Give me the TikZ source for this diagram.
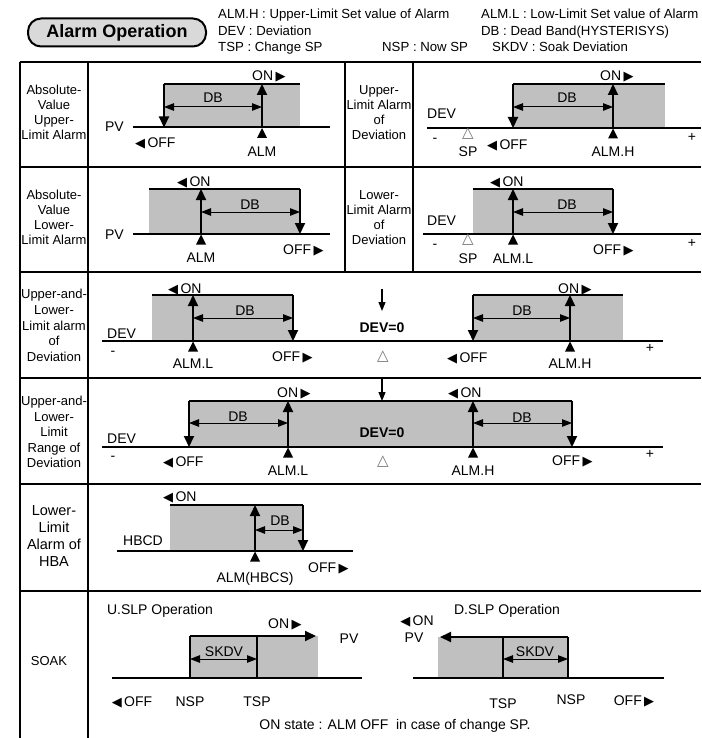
\documentclass[tikz,border=0pt]{standalone}
\usepackage{fontspec}
\setmainfont{Liberation Sans}
\newfontfamily\sym{DejaVu Sans}
\usetikzlibrary{arrows.meta}
\definecolor{shade}{HTML}{C0C0C0}
\definecolor{hdrfill}{HTML}{D9D9D9}
\newcommand\dfont{\fontsize{14}{16}\selectfont}
\newcommand\lfont{\fontsize{13}{15}\selectfont}
\newcommand\hfont{\fontsize{13.2}{16}\selectfont}
\newcommand\triR{{\sym\fontsize{13}{13}\selectfont ▶}}
\newcommand\triL{{\sym\fontsize{13}{13}\selectfont ◀}}
\newcommand\mkup[2]{\fill (#1,#2) -- ++(-5,10) -- ++(10,0) -- cycle;}
\tikzset{
  tbl/.style={line width=1.5pt},
  bl/.style={line width=2pt},
  shd/.style={fill=shade, draw=none},
  edgeline/.style={line width=2pt},
  va/.style={line width=2pt, -{Triangle[length=11pt,width=10pt]}},
  dbar/.style={line width=1pt, {Triangle[length=10pt,width=7.5pt]}-{Triangle[length=10pt,width=7.5pt]}},
  sarr/.style={line width=1.2pt, -{Triangle[length=9pt,width=7pt]}},
  t/.style={font=\dfont, inner sep=0pt, anchor=base},
  tw/.style={t, anchor=base west},
  rl/.style={font=\lfont, align=center, inner sep=0pt},
  lg/.style={font=\hfont, inner sep=0pt, anchor=base west},
  hollow/.style={font=\sym\fontsize{15}{15}\selectfont, text=black!55, inner sep=0pt},
}
\begin{document}
\begin{tikzpicture}[x=1pt,y=-1pt]
\useasboundingbox (0,0) rectangle (701,738);

% header
\node[draw, line width=2pt, fill=hdrfill, rounded corners=13pt, minimum width=178pt, minimum height=28pt, font=\fontsize{18}{20}\selectfont\bfseries, inner sep=0pt] (title) at (117,32.5) {Alarm Operation};
\node[lg] (lg1) at (218,19) {ALM.H : Upper-Limit Set value of Alarm};
\node[lg] (lg2) at (481,19) {ALM.L : Low-Limit Set value of Alarm};
\node[lg] (lg3) at (218,35.5) {DEV : Deviation};
\node[lg] (lg4) at (481,35.5) {DB : Dead Band(HYSTERISYS)};
\node[lg] (lg5) at (218,52) {TSP : Change SP};
\node[lg] (lg6) at (382,52) {NSP : Now SP};
\node[lg] (lg7) at (492,52) {SKDV : Soak Deviation};

% table
\draw[tbl] (20,62) -- (701,62) (20,167) -- (701,167) (20,272) -- (701,272)
  (20,378) -- (701,378) (20,484) -- (701,484) (20,591) -- (701,591);
\draw[tbl] (20,62) -- (20,738) (88,62) -- (88,738) (345,62) -- (345,272) (413,62) -- (413,272);

% row labels
\node[rl] (l1) at (54,112.5) {Absolute-\\Value\\Upper-\\Limit Alarm};
\node[rl] (l1r) at (379,112.5) {Upper-\\Limit Alarm\\of\\Deviation};
\node[rl] (l2) at (54,217.5) {Absolute-\\Value\\Lower-\\Limit Alarm};
\node[rl] (l2r) at (379,217.5) {Lower-\\Limit Alarm\\of\\Deviation};
\node[rl, font=\fontsize{13}{15.7}\selectfont] (l3) at (54,325.5) {Upper-and-\\Lower-\\Limit alarm\\of\\Deviation};
\node[rl, font=\fontsize{13}{15.5}\selectfont] (l4) at (54,432) {Upper-and-\\Lower-\\Limit\\Range of\\Deviation};
\node[rl, font=\fontsize{14.5}{17}\selectfont] (l5) at (54,536.5) {Lower-\\Limit\\Alarm of\\HBA};
\node[rl] (l6) at (49,661) {SOAK};

% ---------- row 1 left
\fill[shd] (164,84) rectangle (300,127.5);
\draw[edgeline] (164,84) -- (300,84);
\draw[va] (164,84) -- (164,127.5);
\draw[va] (262,127.5) -- (262,84);
\draw[dbar] (164,107) -- (262,107);
\draw[bl] (133,127.5) -- (330,127.5);
\mkup{262}{128}
\node[t, anchor=base east] (a1pv) at (124,132) {PV};
\node[t] (a1db) at (213,103) {DB};
\node[tw] (a1on) at (252,81) {ON\,\triR};
\node[tw] (a1off) at (135,148) {\triL\,OFF};
\node[t] (a1alm) at (262,157) {ALM};

% ---------- row 1 right
\fill[shd] (513,84) rectangle (665,128);
\draw[edgeline] (513,84) -- (665,84);
\draw[va] (513,84) -- (513,128);
\draw[va] (613,128) -- (613,84);
\draw[dbar] (513,107) -- (613,107);
\draw[bl] (427,128) -- (701,128);
\mkup{613}{128.5}
\node[tw] (b1dev) at (427,119) {DEV};
\node[t] (b1m) at (435,143) {-};
\node[t] (b1p) at (692,142) {+};
\node[hollow] (b1sp0) at (468,134) {△};
\node[t] (b1sp) at (468,157) {SP};
\node[tw] (b1off) at (487,150) {\triL\,OFF};
\node[t] (b1db) at (567,103) {DB};
\node[tw] (b1on) at (600,81) {ON\,\triR};
\node[t] (b1alm) at (613,157) {ALM.H};

% ---------- row 2 left
\fill[shd] (149,189) rectangle (300,234);
\draw[edgeline] (149,189) -- (300,189);
\draw[va] (201,234) -- (201,189);
\draw[va] (300,189) -- (300,234);
\draw[dbar] (201,212) -- (300,212);
\draw[bl] (133,234) -- (330,234);
\mkup{201}{234.5}
\node[t, anchor=base east] (a2pv) at (124,239) {PV};
\node[t] (a2db) at (250,209) {DB};
\node[tw] (a2on) at (177,186) {\triL\,ON};
\node[tw] (a2off) at (283,254) {OFF\,\triR};
\node[t] (a2alm) at (201,262) {ALM};

% ---------- row 2 right
\fill[shd] (473,189) rectangle (613,234);
\draw[edgeline] (473,189) -- (613,189);
\draw[va] (513,234) -- (513,189);
\draw[va] (613,189) -- (613,234);
\draw[dbar] (513,212) -- (613,212);
\draw[bl] (423,234) -- (701,234);
\mkup{513}{234.5}
\node[tw] (b2dev) at (427,225) {DEV};
\node[t] (b2m) at (435,248) {-};
\node[t] (b2p) at (692,247) {+};
\node[hollow] (b2sp0) at (468,240) {△};
\node[t] (b2sp) at (468,263) {SP};
\node[t] (b2db) at (567,209) {DB};
\node[tw] (b2on) at (490,186) {\triL\,ON};
\node[tw] (b2off) at (593,254) {OFF\,\triR};
\node[t] (b2alm) at (513,263) {ALM.L};

% ---------- row 3
\fill[shd] (152,295) rectangle (293,341);
\draw[edgeline] (152,295) -- (293,295);
\draw[va] (193,341) -- (193,295);
\draw[va] (293,295) -- (293,341);
\draw[dbar] (193,318) -- (293,318);
\fill[shd] (473,295) rectangle (623,341);
\draw[edgeline] (473,295) -- (623,295);
\draw[va] (473,295) -- (473,341);
\draw[va] (570,341) -- (570,295);
\draw[dbar] (473,318) -- (570,318);
\draw[bl] (102,341) -- (663,341);
\mkup{193}{341.5}
\mkup{570}{341.5}
\node[tw] (c3dev) at (107,338) {DEV};
\node[t] (c3m) at (113,355) {-};
\node[t] (c3db1) at (245,315) {DB};
\node[tw] (c3on1) at (168,293) {\triL\,ON};
\node[tw] (c3off1) at (272,361) {OFF\,\triR};
\node[t] (c3alm1) at (193,368) {ALM.L};
\coordinate (c3a) at (382,289);
\coordinate (c3b) at (382,311);
\draw[sarr] (c3a) -- (c3b);
\node[t, font=\dfont\bfseries] (c3zero) at (382,332) {DEV=0};
\node[hollow] (c3sp0) at (383,357) {△};
\node[t] (c3db2) at (522,315) {DB};
\node[tw] (c3on2) at (558,293) {ON\,\triR};
\node[tw] (c3off2) at (447,362) {\triL\,OFF};
\node[t] (c3p) at (650,352) {+};
\node[t] (c3alm2) at (570,368) {ALM.H};

% ---------- row 4
\fill[shd] (189,401) rectangle (572,447);
\draw[edgeline] (189,401) -- (572,401);
\draw[va] (189,401) -- (189,447);
\draw[va] (288,447) -- (288,401);
\draw[dbar] (189,423) -- (288,423);
\draw[va] (473,447) -- (473,401);
\draw[va] (572,401) -- (572,447);
\draw[dbar] (473,423) -- (572,423);
\draw[bl] (102,447) -- (663,447);
\mkup{288}{447.5}
\mkup{473}{447.5}
\node[tw] (d4dev) at (107,443) {DEV};
\node[t] (d4m) at (113,460) {-};
\node[t] (d4db1) at (238,421) {DB};
\node[tw] (d4on1) at (277,397) {ON\,\triR};
\node[tw] (d4off1) at (163,466) {\triL\,OFF};
\node[t] (d4alm1) at (288,475) {ALM.L};
\coordinate (d4a) at (382,379);
\coordinate (d4b) at (382,401);
\draw[sarr] (d4a) -- (d4b);
\node[t, font=\dfont\bfseries] (d4zero) at (382,437) {DEV=0};
\node[hollow] (d4sp0) at (383,462) {△};
\node[t] (d4db2) at (522,422) {DB};
\node[tw] (d4on2) at (448,397) {\triL\,ON};
\node[tw] (d4off2) at (552,465) {OFF\,\triR};
\node[t] (d4p) at (650,458) {+};
\node[t] (d4alm2) at (473,475) {ALM.H};

% ---------- row 5
\fill[shd] (170,505) rectangle (303,551);
\draw[edgeline] (170,505) -- (303,505);
\draw[va] (255,551) -- (255,505);
\draw[va] (303,505) -- (303,551);
\draw[dbar] (255,530) -- (303,530);
\draw[bl] (117,551) -- (353,551);
\mkup{255}{551.5}
\node[t] (e5hb) at (143,545) {HBCD};
\node[t] (e5db) at (280,525) {DB};
\node[tw] (e5on) at (163,501) {\triL\,ON};
\node[tw] (e5off) at (308,572) {OFF\,\triR};
\node[t] (e5alm) at (255,582) {ALM(HBCS)};

% ---------- row 6
\node[t] (f6u) at (160,614) {U.SLP Operation};
\fill[shd] (190,636) rectangle (318,678);
\draw[line width=1.5pt] (190,636) -- (190,678);
\draw[line width=1.5pt] (257,636) -- (257,678);
\draw[va] (190,636) -- (316,636);
\draw[dbar] (190,659) -- (257,659);
\draw[bl] (112,678) -- (362,678);
\node[tw] (f6on) at (268,628) {ON\,\triR};
\node[t] (f6pv) at (349,643) {PV};
\node[t] (f6sk) at (224,656) {SKDV};
\node[t] (f6off) at (132,706) {\triL\,OFF};
\node[t] (f6nsp) at (190,706) {NSP};
\node[t] (f6tsp) at (257,706) {TSP};

\node[t] (g6d) at (507,614) {D.SLP Operation};
\fill[shd] (438,637) rectangle (568,678);
\draw[line width=1.5pt] (568,637) -- (568,678);
\draw[line width=1.5pt] (503,637) -- (503,678);
\draw[va] (568,637) -- (440,637);
\draw[dbar] (503,659) -- (568,659);
\draw[bl] (413,678) -- (664,678);
\node[t] (g6on) at (417,625) {\triL\,ON};
\node[t] (g6pv) at (414,642) {PV};
\node[t] (g6sk) at (535,656) {SKDV};
\node[t] (g6tsp) at (503,708) {TSP};
\node[t] (g6nsp) at (571,704) {NSP};
\node[t] (g6off) at (634,705) {OFF\,\triR};

\node[t] (note) at (395,729) {ON state : ALM OFF\ \ in case of change SP.};
\end{tikzpicture}
\end{document}
